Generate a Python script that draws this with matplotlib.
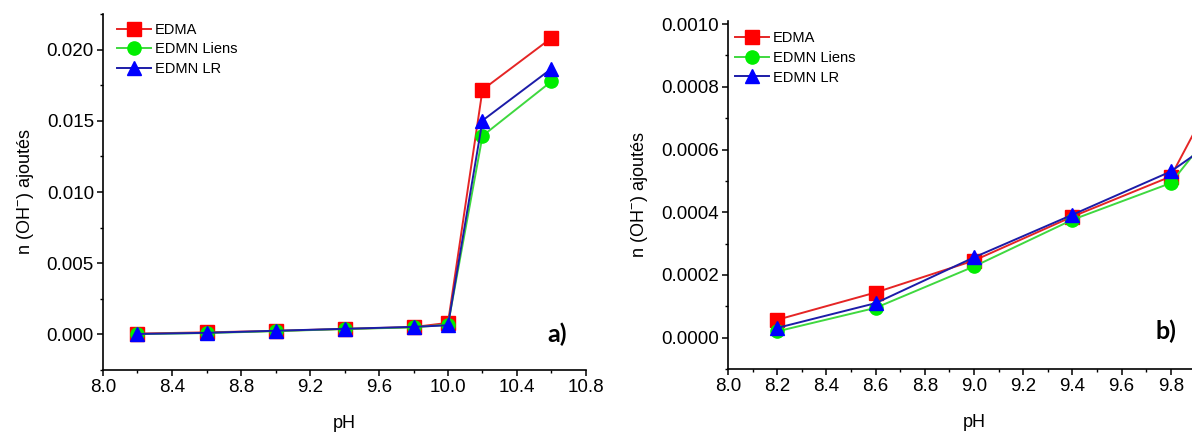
import numpy as np
import matplotlib
matplotlib.use("Agg")
from matplotlib import pyplot as plt
from matplotlib.ticker import MultipleLocator, FormatStrFormatter

plt.rcParams['font.family'] = ['Liberation Sans', 'DejaVu Sans']
plt.rcParams['mathtext.default'] = 'regular'

# data
ph = [8.2, 8.6, 9.0, 9.4, 9.8, 10.0, 10.2, 10.6]
edma = [0.000057, 0.000144, 0.000246, 0.000386, 0.000514, 0.00081, 0.01718, 0.02082]
edmn_liens = [0.000020, 0.000095, 0.000227, 0.000376, 0.000493, 0.00069, 0.01394, 0.01777]
edmn_lr = [0.000031, 0.000110, 0.000256, 0.000392, 0.000530, 0.00064, 0.01502, 0.01866]

labels = ['EDMA', 'EDMN Liens', 'EDMN LR']
series = [edma, edmn_liens, edmn_lr]
markers = ['s', 'o', '^']
msizes = [9.5, 9.5, 10.5]
line_colors = ['#e52525', '#3fd83f', '#1c1ca8']
face_colors = ['#ff0000', '#00ee00', '#0000ff']

# tick labels of panel b) (10.0 falls past the right edge)
b_xticks = [8.0, 8.2, 8.4, 8.6, 8.8, 9.0, 9.2, 9.4, 9.6, 9.8]

W, H = 1192, 432


def style_axes(ax, xmaj, xmin, ymaj, ymin, yfmt):
    for s in ['top', 'right']:
        ax.spines[s].set_visible(False)
    for s in ['left', 'bottom']:
        ax.spines[s].set_linewidth(1.2)
    ax.xaxis.set_major_locator(MultipleLocator(xmaj))
    ax.xaxis.set_minor_locator(MultipleLocator(xmin))
    ax.yaxis.set_major_locator(MultipleLocator(ymaj))
    ax.yaxis.set_minor_locator(MultipleLocator(ymin))
    ax.xaxis.set_major_formatter(FormatStrFormatter('%.1f'))
    ax.yaxis.set_major_formatter(FormatStrFormatter(yfmt))
    ax.tick_params(which='major', direction='out', length=4.5, width=1.1, labelsize=13.5, pad=2)
    ax.tick_params(which='minor', direction='out', length=2.5, width=1.0)
    ax.set_xlabel('pH', fontsize=13, labelpad=14)
    ax.set_ylabel('n (OH$^{-}$) ajoutés', fontsize=13, labelpad=8)


def draw_series(ax):
    for y, lab, m, ms, lc, fc in zip(series, labels, markers, msizes, line_colors, face_colors):
        ax.plot(ph, y, color=lc, lw=1.4, marker=m, markersize=ms,
                markerfacecolor=fc, markeredgecolor=fc, label=lab)


def add_legend(ax, x0, y0):
    ax.legend(loc='upper left', bbox_to_anchor=(x0, y0), frameon=False,
              fontsize=10.5, handlelength=2.3, handletextpad=0.25,
              labelspacing=0.38, borderpad=0, borderaxespad=0)


fig = plt.figure(figsize=(W / 100, H / 100), dpi=100)

# panel a)
ax1 = fig.add_axes([103 / W, 62 / H, 483 / W, 356 / H])
draw_series(ax1)
ax1.set_xlim(8.0, 10.8)
ax1.set_ylim(-0.0025, 0.0225)
style_axes(ax1, 0.4, 0.2, 0.005, 0.0025, '%.3f')
ax1.text(10.63, 0.0, 'a)', fontsize=18, fontweight='bold', family='Lato',
         ha='center', va='center')
add_legend(ax1, 0.03, 0.975)

# panel b) (zoom on the low pH part, cut by the right edge)
ax2 = fig.add_axes([728 / W, 63 / H, 492 / W, 348 / H])
draw_series(ax2)
ax2.set_xlim(8.0, 10.0)
ax2.set_ylim(-0.0001, 0.00101)
style_axes(ax2, 0.2, 0.1, 0.0002, 0.0001, '%.4f')
ax2.set_xticks(b_xticks)
ax2.text(9.78, 0.00002, 'b)', fontsize=18, fontweight='bold', family='Lato',
         ha='center', va='center')
add_legend(ax2, 0.015, 0.97)

fig.savefig('out.png', dpi=100)
